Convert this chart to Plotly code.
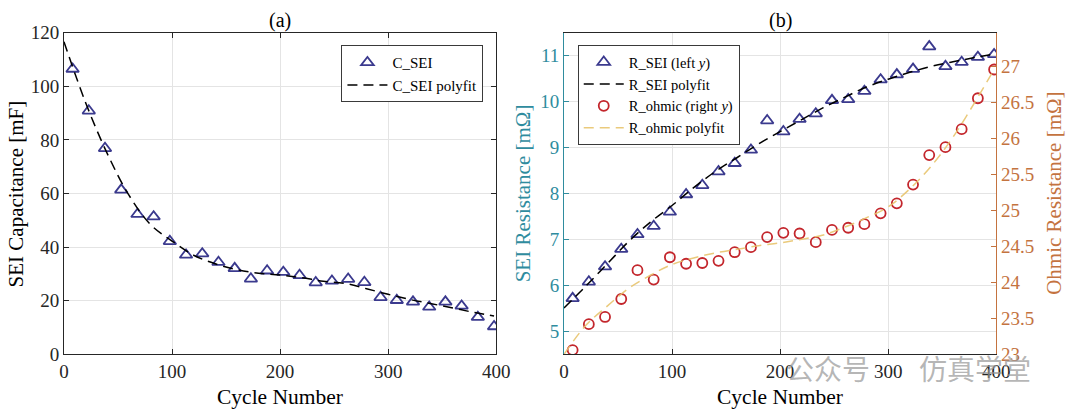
import plotly.graph_objects as go

# ---------------- data ----------------
cycles = [8, 23, 38, 53, 68, 83, 98, 113, 128, 143, 158, 173, 188, 203, 218,
          233, 248, 263, 278, 293, 308, 323, 338, 353, 368, 383, 398]

c_sei = [106.5, 90.9, 76.9, 61.4, 52.3, 51.4, 42.2, 37.1, 37.6, 34.4, 32.1, 28.2,
         31.2, 30.7, 29.5, 26.8, 27.4, 28.1, 26.9, 21.3, 20.2, 19.6, 17.7, 19.6,
         18.1, 13.9, 10.4]

r_sei = [5.72, 6.08, 6.41, 6.79, 7.11, 7.29, 7.60, 7.98, 8.18, 8.48, 8.66, 8.95,
         9.59, 9.35, 9.62, 9.74, 10.03, 10.05, 10.23, 10.48, 10.59, 10.71, 11.20,
         10.77, 10.86, 10.97, 11.03]

r_ohmic = [23.06, 23.42, 23.52, 23.77, 24.17, 24.04, 24.35, 24.26, 24.27, 24.30,
           24.42, 24.49, 24.63, 24.69, 24.68, 24.56, 24.73, 24.76, 24.81, 24.96,
           25.10, 25.36, 25.77, 25.88, 26.13, 26.56, 26.96]

fit_x = [0, 20, 40, 60, 80, 100, 120, 140, 160, 180, 200, 220, 240, 260, 280,
         300, 320, 340, 360, 380, 398]
c_sei_fit = [116.7, 94.0, 75.0, 59.5, 48.5, 42.3, 37.0, 33.8, 31.6, 30.3, 29.6,
             28.6, 27.3, 26.5, 24.5, 22.4, 20.5, 18.9, 17.3, 15.6, 14.3]
r_sei_fit = [5.51, 5.98, 6.47, 6.96, 7.38, 7.74, 8.13, 8.48, 8.78, 9.08, 9.35,
             9.61, 9.87, 10.10, 10.32, 10.49, 10.64, 10.77, 10.87, 10.96, 11.04]
r_ohmic_fit = [23.0, 23.40, 23.67, 23.92, 24.10, 24.25, 24.34, 24.41, 24.46, 24.51,
               24.55, 24.60, 24.66, 24.77, 24.90, 25.05, 25.30, 25.62, 26.02, 26.50, 26.96]

x_ticks = [0, 100, 200, 300, 400]
c_ticks = [0, 20, 40, 60, 80, 100, 120]
rsei_ticks = [5, 6, 7, 8, 9, 10, 11]
rohm_ticks = [23, 23.5, 24, 24.5, 25, 25.5, 26, 26.5, 27]
rohm_ticklabels = ["23", "23.5", "24", "24.5", "25", "25.5", "26", "26.5", "27"]

# ---------------- style ----------------
W, H = 1080, 420
FONT = "Liberation Serif, Times New Roman, serif"
TRI = "#3b3a8e"
CIRC = "#c3262c"
TEAL = "#2f8c9e"
ORANGE = "#c4733f"
FITY = "rgba(232,196,110,0.9)"
AX = "#262626"
GRID = "#e4e4e4"

def px_x(p):
    return p / W

def px_y(p):
    return 1 - p / H

L1, R1 = 60, 500
L2, R2 = 569, 1009
TOP, BOT = 24, 362.5

fig = go.Figure()

# ---- panel (a)
fig.add_trace(go.Scatter(x=cycles, y=c_sei, mode="markers", name="C_SEI",
                         marker=dict(symbol="triangle-up-open", size=11, color=TRI,
                                     line=dict(width=1.8, color=TRI)),
                         xaxis="x", yaxis="y", legend="legend"))
fig.add_trace(go.Scatter(x=fit_x, y=c_sei_fit, mode="lines", name="C_SEI polyfit",
                         line=dict(color="black", width=1.5, dash="10px,6px", shape="spline"),
                         xaxis="x", yaxis="y", legend="legend"))

# ---- panel (b)
fig.add_trace(go.Scatter(x=cycles, y=r_sei, mode="markers", name="R_SEI (left <i>y</i>)",
                         marker=dict(symbol="triangle-up-open", size=11, color=TRI,
                                     line=dict(width=1.8, color=TRI)),
                         xaxis="x2", yaxis="y2", legend="legend2"))
fig.add_trace(go.Scatter(x=fit_x, y=r_sei_fit, mode="lines", name="R_SEI polyfit",
                         line=dict(color="black", width=1.5, dash="10px,6px", shape="spline"),
                         xaxis="x2", yaxis="y2", legend="legend2"))
fig.add_trace(go.Scatter(x=cycles, y=r_ohmic, mode="markers", name="R_ohmic (right <i>y</i>)",
                         marker=dict(symbol="circle-open", size=10, color=CIRC,
                                     line=dict(width=1.8, color=CIRC)),
                         xaxis="x2", yaxis="y3", legend="legend2"))
fig.add_trace(go.Scatter(x=fit_x, y=r_ohmic_fit, mode="lines", name="R_ohmic polyfit",
                         line=dict(color=FITY, width=1.5, dash="10px,6px", shape="spline"),
                         xaxis="x2", yaxis="y3", legend="legend2"))

tickfont = dict(family=FONT, size=19, color=AX)

common_x = dict(range=[0, 400], tickvals=x_ticks, showgrid=True, gridcolor=GRID,
                gridwidth=1, zeroline=False, showline=True, linecolor=AX, linewidth=1,
                ticks="inside", ticklen=5, tickcolor=AX, tickfont=tickfont,
                mirror="allticks")

fig.update_layout(
    width=W, height=H,
    margin=dict(l=0, r=0, t=0, b=0),
    paper_bgcolor="white", plot_bgcolor="white",
    font=dict(family=FONT, size=15, color="black"),
    xaxis=dict(common_x, domain=[px_x(L1), px_x(R1)], anchor="y"),
    yaxis=dict(domain=[px_y(BOT), px_y(TOP)], range=[0, 120], tickvals=c_ticks,
               showgrid=True, gridcolor=GRID, zeroline=False, showline=True,
               linecolor=AX, linewidth=1, ticks="inside", ticklen=5, tickcolor=AX,
               tickfont=tickfont, mirror="allticks", anchor="x"),
    xaxis2=dict(common_x, domain=[px_x(L2), px_x(R2)], anchor="y2", mirror=True),
    yaxis2=dict(domain=[px_y(BOT), px_y(TOP)], range=[4.5, 11.5], tickvals=rsei_ticks,
                showgrid=True, gridcolor=GRID, zeroline=False, showline=True,
                linecolor=TEAL, linewidth=1, ticks="inside", ticklen=5, tickcolor=TEAL,
                tickfont=dict(family=FONT, size=19, color=TEAL), anchor="x2", side="left"),
    yaxis3=dict(domain=[px_y(BOT), px_y(TOP)], range=[23, 27.47], tickvals=rohm_ticks,
                ticktext=rohm_ticklabels, overlaying="y2", side="right", anchor="x2",
                showgrid=False, zeroline=False, showline=True, linecolor=ORANGE,
                linewidth=1, ticks="inside", ticklen=5, tickcolor=ORANGE,
                tickfont=dict(family=FONT, size=19, color=ORANGE)),
    legend=dict(x=px_x(487), y=px_y(37), xanchor="right", yanchor="top",
                bgcolor="white", bordercolor="#3a3a3a", borderwidth=1,
                font=dict(family=FONT, size=15, color="black"),
                tracegroupgap=0, itemwidth=40),
    legend2=dict(x=px_x(583), y=px_y(37), xanchor="left", yanchor="top",
                 bgcolor="white", bordercolor="#3a3a3a", borderwidth=1,
                 font=dict(family=FONT, size=14.5, color="black"),
                 tracegroupgap=0, itemwidth=40),
    showlegend=True,
)

ann = [
    dict(text="(a)", x=px_x((L1 + R1) / 2), y=px_y(11), font=dict(size=20)),
    dict(text="(b)", x=px_x((L2 + R2) / 2), y=px_y(11), font=dict(size=20)),
    dict(text="Cycle Number", x=px_x((L1 + R1) / 2), y=px_y(407), font=dict(size=21.5)),
    dict(text="Cycle Number", x=px_x((L2 + R2) / 2), y=px_y(407), font=dict(size=21.5)),
    dict(text="SEI Capacitance [mF]", x=px_x(11), y=px_y((TOP + BOT) / 2),
         textangle=-90, font=dict(size=21)),
    dict(text="SEI Resistance [mΩ]", x=px_x(527), y=px_y((TOP + BOT) / 2),
         textangle=-90, font=dict(size=21, color=TEAL)),
    dict(text="Ohmic Resistance [mΩ]", x=px_x(1067), y=px_y((TOP + BOT) / 2),
         textangle=-90, font=dict(size=21, color=ORANGE)),
    dict(text="公众号", x=px_x(838), y=px_y(377),
         font=dict(family="Noto Sans CJK SC", size=28, color="rgba(150,150,150,0.7)")),
    dict(text="仿真学堂", x=px_x(987), y=px_y(377),
         font=dict(family="Noto Sans CJK SC", size=28, color="rgba(150,150,150,0.7)")),
]
for a in ann:
    f = dict(family=FONT, color="black")
    f.update(a.pop("font"))
    fig.add_annotation(**a, xref="paper", yref="paper", showarrow=False,
                       xanchor="center", yanchor="middle", font=f)

fig.write_html("out.html")
